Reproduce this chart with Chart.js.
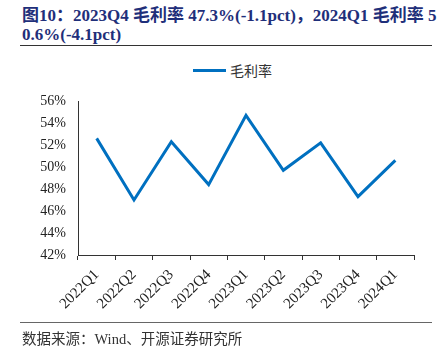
<!DOCTYPE html>
<html><head><meta charset="utf-8">
<script src="https://cdn.jsdelivr.net/npm/chart.js@4"></script>
<style>
html,body{margin:0;padding:0;background:#fff;width:441px;height:355px;overflow:hidden;position:relative;}
#c{position:absolute;left:0;top:0;}
.t{position:absolute;left:22px;color:#1F2F7A;font:bold 17px "Liberation Serif","Noto Sans CJK SC",serif;white-space:nowrap;}
.rule{position:absolute;left:20px;width:412px;height:1px;}
#src{position:absolute;left:22px;top:327px;font:14.5px "Liberation Serif","Noto Sans CJK SC",serif;color:#333;white-space:nowrap;}
#leg{position:absolute;left:193px;top:61px;height:18px;display:flex;align-items:center;font:14px "Noto Sans CJK SC",serif;color:#333;}
#leg span.l{display:inline-block;width:33px;height:3px;margin-right:4px;}
</style></head>
<body>
<div class="t" style="top:1px">图10：2023Q4 毛利率 47.3%(-1.1pct)，2024Q1 毛利率 5</div>
<div class="t" style="top:25px">0.6%(-4.1pct)</div>
<div class="rule" style="top:45px;background:#333"></div>
<div id="leg"><span class="l"></span><span id="legtxt"></span></div>
<canvas id="c" width="441" height="355"></canvas>
<div class="rule" style="top:322px;background:#666"></div>
<div id="src">数据来源：Wind、开源证券研究所</div>
<script>
const categories = ['2022Q1','2022Q2','2022Q3','2022Q4','2023Q1','2023Q2','2023Q3','2023Q4','2024Q1'];
const seriesName = '毛利率';
const grossMargin = [52.6, 47.0, 52.3, 48.4, 54.7, 49.7, 52.2, 47.3, 50.6];
const yTicks = [42, 44, 46, 48, 50, 52, 54, 56];
const lineColor = '#0070C0';

document.getElementById('legtxt').textContent = seriesName;
document.querySelector('#leg .l').style.background = lineColor;

new Chart(document.getElementById('c'), {
  type: 'line',
  data: { labels: categories, datasets: [{ label: seriesName, data: grossMargin, borderColor: lineColor, borderWidth: 3, pointRadius: 0, tension: 0, fill: false }] },
  options: {
    responsive: false, animation: false,
    layout: { padding: { top: 101, right: 27, left: 0, bottom: 0 } },
    plugins: { legend: { display: false }, tooltip: { enabled: false } },
    scales: {
      x: {
        offset: true,
        afterFit: s => { s.height = 100; },
        grid: { offset: true, drawOnChartArea: false, drawTicks: true, tickLength: 5, color: '#333', tickColor: '#333' },
        border: { color: '#333', width: 1 },
        ticks: { maxRotation: 45, minRotation: 45, autoSkip: false, padding: 6, color: '#222', font: { family: 'Liberation Serif', size: 15 } }
      },
      y: {
        min: 42, max: 56,
        afterFit: s => { s.width = 78; },
        afterBuildTicks: s => { s.ticks = yTicks.map(v => ({ value: v })); },
        grid: { drawOnChartArea: false, drawTicks: false },
        border: { color: '#333', width: 1 },
        ticks: { padding: 12, color: '#222', font: { family: 'Liberation Serif', size: 14 }, callback: v => v + '%' }
      }
    }
  }
});
</script>
</body></html>
